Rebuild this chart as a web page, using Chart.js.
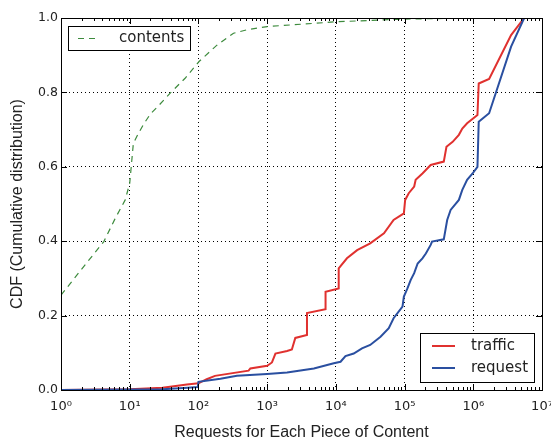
<!DOCTYPE html>
<html>
<head>
<meta charset="utf-8">
<script src="https://cdn.jsdelivr.net/npm/chart.js@4.4.1/dist/chart.umd.min.js"></script>
<style>
  html, body { margin: 0; padding: 0; background: #fff; }
  #cdf { display: block; }
</style>
</head>
<body>
<canvas id="cdf" width="551" height="439"></canvas>
<script>
// values
const contentsX = [1, 2, 4.2, 6.1, 8.6, 10, 11.3, 13.4, 16, 20, 26.2, 38.8, 64, 102, 186, 324, 500, 1000, 10500, 98000, 1e6, 5.5e6];
const contentsY = [0.255, 0.325, 0.399, 0.46, 0.511, 0.556, 0.663, 0.69, 0.715, 0.742, 0.764, 0.798, 0.838, 0.883, 0.927, 0.959, 0.968, 0.977, 0.99, 0.997, 1.0, 1.0];

const trafficX = [1, 10, 30, 68, 100, 132, 174, 537, 570, 1000, 1175, 1320, 1950, 2290, 2570, 3800, 3800, 7080, 7080, 11000, 11000, 14500, 20400, 31600, 50100, 69200, 97700, 102000, 115000, 138000, 145000, 182000, 240000, 372000, 407000, 501000, 617000, 692000, 813000, 1150000, 1200000, 1700000, 3550000, 5500000];
const trafficY = [0, 0.002, 0.006, 0.015, 0.018, 0.029, 0.038, 0.052, 0.058, 0.065, 0.074, 0.098, 0.105, 0.109, 0.14, 0.148, 0.207, 0.217, 0.264, 0.273, 0.327, 0.354, 0.376, 0.394, 0.421, 0.457, 0.475, 0.511, 0.529, 0.547, 0.565, 0.582, 0.605, 0.614, 0.654, 0.667, 0.686, 0.703, 0.717, 0.739, 0.824, 0.836, 0.954, 1.0];

const requestX = [1, 30, 70, 98, 100, 209, 363, 1000, 1950, 4790, 9330, 11700, 13800, 18200, 24000, 31600, 44700, 58900, 69200, 93300, 97700, 110000, 123000, 138000, 155000, 182000, 204000, 240000, 251000, 372000, 417000, 468000, 617000, 692000, 813000, 977000, 1150000, 1200000, 1700000, 3550000, 5500000];
const requestY = [0, 0.002, 0.006, 0.008, 0.022, 0.03, 0.038, 0.043, 0.047, 0.058, 0.072, 0.076, 0.091, 0.098, 0.112, 0.121, 0.143, 0.166, 0.193, 0.224, 0.251, 0.273, 0.296, 0.314, 0.34, 0.354, 0.367, 0.39, 0.399, 0.405, 0.457, 0.484, 0.511, 0.538, 0.565, 0.582, 0.6, 0.721, 0.744, 0.923, 1.0];

const xTicks = [1, 10, 100, 1000, 1e4, 1e5, 1e6, 1e7];
const xTickLabels = ["10\u2070", "10\u00b9", "10\u00b2", "10\u00b3", "10\u2074", "10\u2075", "10\u2076", "10\u2077"];
const yTicks = [0, 0.2, 0.4, 0.6, 0.8, 1.0];

const RED = "#e0312f";
const BLUE = "#2a4fa0";
const GREEN = "#3d8b3d";

function toPoints(xs, ys) {
  return xs.map((x, i) => ({ x: x, y: ys[i] }));
}

// frame, inward major/minor ticks
const framePlugin = {
  id: "frame",
  afterDraw(chart) {
    const { ctx, chartArea: a, scales } = chart;
    const xs = scales.x, ys = scales.y;
    ctx.save();
    ctx.strokeStyle = "#000";
    ctx.lineWidth = 1;
    ctx.beginPath();
    xTicks.forEach((v, i) => {
      const px = Math.round(xs.getPixelForValue(v)) + 0.5;
      ctx.moveTo(px, a.bottom); ctx.lineTo(px, a.bottom - 6);
      ctx.moveTo(px, a.top); ctx.lineTo(px, a.top + 6);
      if (i < xTicks.length - 1) {
        for (let k = 2; k <= 9; k++) {
          const mx = Math.round(xs.getPixelForValue(v * k)) + 0.5;
          ctx.moveTo(mx, a.bottom); ctx.lineTo(mx, a.bottom - 3);
          ctx.moveTo(mx, a.top); ctx.lineTo(mx, a.top + 3);
        }
      }
    });
    yTicks.forEach(v => {
      const py = Math.round(ys.getPixelForValue(v)) + 0.5;
      ctx.moveTo(a.left, py); ctx.lineTo(a.left + 6, py);
      ctx.moveTo(a.right, py); ctx.lineTo(a.right - 6, py);
    });
    ctx.stroke();
    ctx.strokeRect(Math.round(a.left) + 0.5, Math.round(a.top) + 0.5, Math.round(a.right - a.left), Math.round(a.bottom - a.top));
    ctx.restore();
  }
};

// the two legend boxes
const legendPlugin = {
  id: "boxes",
  afterDraw(chart) {
    const { ctx } = chart;
    const ds = chart.data.datasets;
    ctx.save();
    ctx.font = "15px 'DejaVu Sans'";
    ctx.textBaseline = "middle";

    function box(x, y, w, h) {
      ctx.fillStyle = "#fff";
      ctx.fillRect(x, y, w, h);
      ctx.strokeStyle = "#000";
      ctx.lineWidth = 1;
      ctx.strokeRect(x + 0.5, y + 0.5, w, h);
    }
    function entry(d, x1, x2, y, tx) {
      ctx.strokeStyle = d.borderColor;
      ctx.lineWidth = d.borderWidth;
      ctx.setLineDash(d.borderDash || []);
      ctx.beginPath();
      ctx.moveTo(x1, y); ctx.lineTo(x2, y);
      ctx.stroke();
      ctx.setLineDash([]);
      ctx.fillStyle = "#222";
      ctx.fillText(d.label, tx, y);
    }

    box(68, 26, 122, 24);
    entry(ds[0], 78, 100, 38.5, 119);

    box(420, 333, 114, 49);
    entry(ds[1], 432, 455, 346, 471);
    entry(ds[2], 432, 455, 368, 471);
    ctx.restore();
  }
};

new Chart(document.getElementById("cdf"), {
  type: "line",
  data: {
    datasets: [
      {
        label: "contents",
        data: toPoints(contentsX, contentsY),
        borderColor: GREEN,
        borderWidth: 1.2,
        borderDash: [6, 5],
        pointRadius: 0,
        order: 2
      },
      {
        label: "traffic",
        data: toPoints(trafficX, trafficY),
        borderColor: RED,
        borderWidth: 2,
        pointRadius: 0,
        order: 1
      },
      {
        label: "request",
        data: toPoints(requestX, requestY),
        borderColor: BLUE,
        borderWidth: 2,
        pointRadius: 0,
        order: 0
      }
    ]
  },
  options: {
    responsive: false,
    animation: false,
    events: [],
    layout: { padding: { top: 18, right: 9, left: 0, bottom: 0 } },
    plugins: {
      legend: { display: false },
      tooltip: { enabled: false }
    },
    scales: {
      x: {
        type: "logarithmic",
        min: 1,
        max: 1e7,
        afterBuildTicks(scale) {
          scale.ticks = xTicks.map(v => ({ value: v, major: true }));
        },
        afterFit(scale) {
          scale.height = 49;
          scale.paddingLeft = 0;
          scale.paddingRight = 0;
        },
        ticks: {
          autoSkip: false,
          maxRotation: 0,
          padding: 9,
          color: "#222",
          font: { family: "'DejaVu Sans'", size: 13 },
          callback: (v) => {
            const i = xTicks.indexOf(v);
            return i >= 0 ? xTickLabels[i] : "";
          }
        },
        grid: { color: "#000", lineWidth: 1, drawTicks: false },
        border: { display: false, dash: [1, 3] },
        title: {
          display: true,
          text: "Requests for Each Piece of Content",
          color: "#222",
          font: { family: "'Liberation Sans', Arial, sans-serif", size: 16, lineHeight: 0.85 },
          padding: { top: 0, bottom: 0 }
        }
      },
      y: {
        type: "linear",
        min: 0,
        max: 1,
        afterBuildTicks(scale) {
          scale.ticks = yTicks.map(v => ({ value: v }));
        },
        afterFit(scale) {
          scale.width = 61;
          scale.paddingTop = 0;
          scale.paddingBottom = 0;
        },
        ticks: {
          padding: 3,
          color: "#222",
          font: { family: "'DejaVu Sans'", size: 12.5 },
          callback: (v) => Number(v).toFixed(1)
        },
        grid: { color: "#000", lineWidth: 1, drawTicks: false },
        border: { display: false, dash: [1, 3] },
        title: {
          display: true,
          text: "CDF (Cumulative distribution)",
          color: "#222",
          font: { family: "'Liberation Sans', Arial, sans-serif", size: 16 },
          padding: { top: 8, bottom: 0 }
        }
      }
    }
  },
  plugins: [framePlugin, legendPlugin]
});
</script>
</body>
</html>
